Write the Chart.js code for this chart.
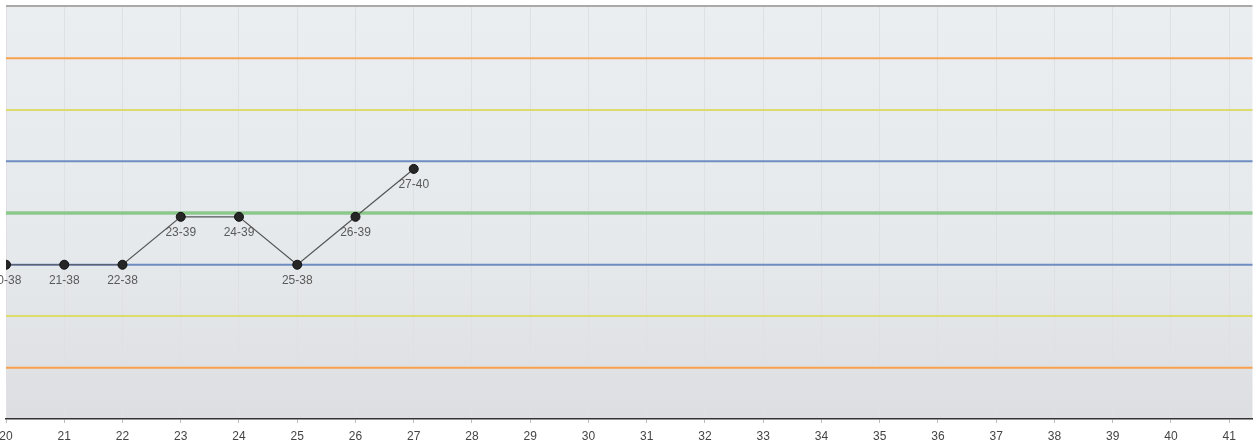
<!DOCTYPE html>
<html>
<head>
<meta charset="utf-8">
<script src="https://cdn.jsdelivr.net/npm/chart.js@4"></script>
<style>
  html, body { margin: 0; padding: 0; background: #fff; }
  #wrap { width: 1258px; height: 446px; position: relative; }
</style>
</head>
<body>
<div id="wrap"><canvas id="chart"></canvas></div>
<script>
// sample number and measured value
const samples = [20, 21, 22, 23, 24, 25, 26, 27];
const values = [38, 38, 38, 39, 39, 38, 39, 40];

// control lines: -3s, -2s, -1s, mean, +1s, +2s, +3s
const limitValues = [35.85, 36.93, 38.0, 39.08, 40.16, 41.23, 42.31];
const limitColors = ['#f9a04d', '#dcdc6e', '#6f8dc0', '#8cc78c', '#6f8dc0', '#dcdc6e', '#f9a04d'];
const limitWidths = [2, 2, 2, 3.5, 2, 2, 2];

const xMin = 20, xMax = 41.4;
const yMin = 34.78, yMax = 43.38;

const font = { family: "'Liberation Sans', Arial, sans-serif", size: 12 };

const plotBg = {
  id: 'plotBg',
  beforeDraw(chart) {
    const { ctx, chartArea: a } = chart;
    const g = ctx.createLinearGradient(0, a.top, 0, a.bottom);
    g.addColorStop(0, '#ebeef1');
    g.addColorStop(0.6, '#e6e9ec');
    g.addColorStop(1, '#dcdee1');
    ctx.save();
    ctx.fillStyle = g;
    ctx.fillRect(a.left, a.top, a.right - a.left, a.bottom - a.top);
    ctx.restore();
  },
  afterDraw(chart) {
    const { ctx, chartArea: a } = chart;
    ctx.save();
    ctx.strokeStyle = '#a9a9a9';
    ctx.lineWidth = 2;
    ctx.beginPath();
    ctx.moveTo(a.left, a.top - 1);
    ctx.lineTo(a.right, a.top - 1);
    ctx.stroke();
    ctx.restore();
  }
};

const limitLines = {
  id: 'limitLines',
  beforeDatasetsDraw(chart) {
    const { ctx, chartArea: a, scales } = chart;
    ctx.save();
    limitValues.forEach((v, i) => {
      const y = scales.y.getPixelForValue(v);
      ctx.strokeStyle = limitColors[i];
      ctx.lineWidth = limitWidths[i];
      ctx.beginPath();
      ctx.moveTo(a.left, y);
      ctx.lineTo(a.right, y);
      ctx.stroke();
    });
    ctx.restore();
  }
};

const pointLabels = {
  id: 'pointLabels',
  afterDatasetsDraw(chart) {
    const { ctx } = chart;
    const meta = chart.getDatasetMeta(0);
    ctx.save();
    ctx.font = font.size + 'px ' + font.family;
    ctx.fillStyle = '#5a5a5a';
    ctx.textAlign = 'center';
    ctx.textBaseline = 'middle';
    meta.data.forEach((pt, i) => {
      ctx.fillText(samples[i] + '-' + values[i], pt.x, pt.y + 16);
    });
    ctx.restore();
  }
};

new Chart(document.getElementById('chart'), {
  type: 'line',
  data: {
    datasets: [{
      data: samples.map((s, i) => ({ x: s, y: values[i] })),
      borderColor: '#555',
      borderWidth: 1.2,
      pointRadius: 4.5,
      pointBackgroundColor: '#262626',
      pointBorderColor: '#111',
      pointBorderWidth: 1,
      tension: 0,
      clip: 0
    }]
  },
  options: {
    responsive: true,
    maintainAspectRatio: false,
    animation: false,
    layout: { padding: { left: 6, right: 3, top: 7, bottom: 0 } },
    plugins: { legend: { display: false }, tooltip: { enabled: false } },
    scales: {
      x: {
        type: 'linear',
        min: xMin,
        max: xMax,
        afterFit(s) { s.paddingLeft = 0; s.paddingRight = 0; s.height = 27; },
        ticks: {
          stepSize: 1,
          includeBounds: false,
          autoSkip: false,
          maxRotation: 0,
          padding: 6,
          color: '#444',
          font: font
        },
        grid: {
          color: '#e0e0e2',
          tickColor: '#bbb',
          tickLength: 4,
          lineWidth: 1
        },
        border: { color: '#333', width: 1.5 }
      },
      y: {
        display: false,
        min: yMin,
        max: yMax
      }
    }
  },
  plugins: [plotBg, limitLines, pointLabels]
});
</script>
</body>
</html>
